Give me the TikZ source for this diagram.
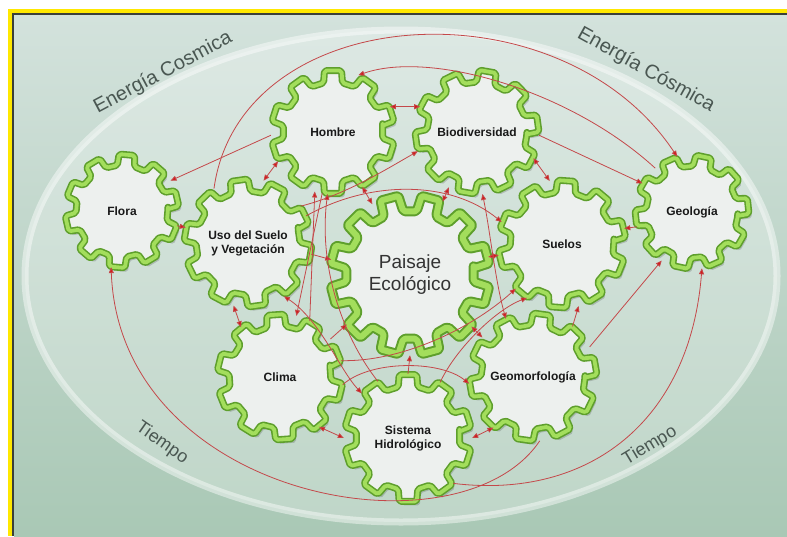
\documentclass[tikz,border=0pt]{standalone}
\usepackage{fontspec}
\setmainfont{Liberation Sans}
\usetikzlibrary{arrows.meta}
\definecolor{bgtop}{HTML}{D3E2DC}
\definecolor{bgbot}{HTML}{A9C8B5}
\definecolor{gearfill}{HTML}{EDF0EE}
\definecolor{geardark}{HTML}{5E9F2C}
\definecolor{gearlight}{HTML}{A3DE5C}
\definecolor{arrc}{HTML}{C4484A}
\definecolor{tipc}{HTML}{D21A1A}
\definecolor{txtgray}{HTML}{4A5752}
\definecolor{frameyellow}{HTML}{FFE800}
\definecolor{framedark}{HTML}{3A3F3A}

% gear path: rin, rout, teeth, rotation, style
\newcommand{\gp}[5]{\path[#5] ({#4-0.2*360/#3}:#1) \foreach \k in {1,...,#3}{ -- ({#4+(\k-1)*360/#3+0.2*360/#3}:#1) -- ({#4+(\k-1)*360/#3+0.28*360/#3}:#2) -- ({#4+(\k-1)*360/#3+0.72*360/#3}:#2) -- ({#4+(\k-1)*360/#3+0.8*360/#3}:#1)} -- cycle;}

% name, x, y, rin, rout, teeth, rotation, label
\newcommand{\gear}[8]{%
  \begin{scope}[shift={(#2,#3)}]
    \gp{#4}{#5}{#6}{#7}{gshadow}
    \gp{#4}{#5}{#6}{#7}{gouter}
    \gp{#4}{#5}{#6}{#7}{ginner}
  \end{scope}
  \node[gearnode, minimum size={2*#5}] (#1) at (#2,#3) {#8};}

\tikzset{
  gshadow/.style={fill=black, opacity=0.16, shift={(3,4)}, rounded corners=2pt},
  gouter/.style={fill=gearfill, draw=geardark, line width=7pt, rounded corners=2pt, line join=round},
  ginner/.style={draw=gearlight, line width=3.8pt, rounded corners=2pt, line join=round},
  bouter/.style={fill=gearfill, draw=geardark, line width=10pt, rounded corners=2pt, line join=round},
  binner/.style={draw=gearlight, line width=6pt, rounded corners=2pt, line join=round},
  gearnode/.style={circle, inner sep=0pt, align=center, text=black!90,
    font=\fontsize{12}{14}\selectfont\bfseries},
  energy/.style={text=txtgray, font=\fontsize{18}{20}\selectfont},
  arr/.style={draw=arrc, line width=0.8pt, -{Triangle[length=6pt,width=5pt,fill=tipc]}},
  darr/.style={draw=arrc, line width=0.8pt, {Triangle[length=6pt,width=5pt,fill=tipc]}-{Triangle[length=6pt,width=5pt,fill=tipc]}},
}

\begin{document}
\begin{tikzpicture}[x=1pt,y=-1pt]
\useasboundingbox (0,0) rectangle (787,536);
% frame and background
\fill[white] (0,0) rectangle (787,536);
\fill[frameyellow] (8,9) rectangle (787,536);
\fill[framedark] (12,13) rectangle (787,536);
\shade[top color=bgtop, bottom color=bgbot] (14,15) rectangle (787,536);
% ellipse
\fill[white, opacity=0.25] (401,276) ellipse (376 and 246);
\draw[white, opacity=0.45, line width=7pt] (401,276) ellipse (376 and 246);

% outer labels
\node[energy, font=\fontsize{20}{22}\selectfont, rotate=28] (e1) at (163,73) {Energía Cosmica};
\node[energy, font=\fontsize{20}{22}\selectfont, rotate=-29] (e2) at (646,70) {Energía Cósmica};
\node[energy, rotate=-35] (t1) at (162,443) {Tiempo};
\node[energy, rotate=31] (t2) at (650,446) {Tiempo};

% central gear
\begin{scope}[shift={(410,275)}]
  \gp{64}{80}{12}{0}{gshadow}
  \gp{64}{80}{12}{0}{bouter}
  \gp{64}{80}{12}{0}{binner}
\end{scope}
\node[gearnode, minimum size=160pt, font=\fontsize{19}{22}\selectfont, text=black!80] (paisaje) at (410,275) {Paisaje\\Ecológico};

% gears
\gear{hombre}{333}{132}{50}{62}{10}{0}{Hombre}
\gear{bio}{477}{132}{50}{62}{10}{10}{Biodiversidad}
\gear{flora}{122}{211}{46}{57}{10}{5}{Flora}
\gear{uso}{248}{243}{52}{64}{10}{-8}{Uso del Suelo\\y Vegetación}
\gear{suelos}{562}{244}{52}{64}{10}{4}{Suelos}
\gear{geo}{692}{212}{46}{57}{10}{12}{Geología}
\gear{clima}{280}{377}{51}{63}{10}{-4}{Clima}
\gear{sistema}{408}{438}{52}{64}{10}{0}{Sistema\\Hidrológico}
\gear{geomorf}{533}{377}{52}{64}{10}{8}{Geomorfología}

% short connectors
\draw[darr] (hombre.24) -- (bio.156);
\draw[arr] (flora.-15) -- (uso.166);
\draw[arr] (hombre.183) -- (flora.32);
\draw[darr] (uso.76) -- (hombre.208);
\draw[arr] (bio.-3) -- (geo.150);
\draw[darr] (bio.-25) -- (suelos.101);
\draw[arr] (geo.195) -- (suelos.14);
\draw[arr] (geomorf.52) -- (suelos.-75);
\draw[arr] (geomorf.28) -- (geo.238);
\draw[darr] (uso.-103) -- (clima.128);
\draw[darr] (clima.-52) -- (sistema.180);
\draw[darr] (sistema.0) -- (geomorf.232);
\draw[arr] (sistema.90) -- (paisaje.-90);
\draw[arr] (clima.37) -- (paisaje.218);
\draw[arr] (uso.-10) -- (paisaje.169);
\draw[darr] (hombre.-62) -- (paisaje.118);
\draw[darr] (bio.-117) -- (paisaje.66);
\draw[darr] (paisaje.13) -- (suelos.190);
\draw[darr] (paisaje.-40) -- (geomorf.142);

% long curves
\draw[arr] (uso.122) .. controls (240,0) and (560,-20) .. (geo.105);
\draw[arr] (geo.130) .. controls (570,90) and (430,50) .. (hombre.66);
\draw[arr] (sistema.-45) .. controls (590,500) and (690,420) .. (geo.-80);
\draw[arr] (geomorf.-84) .. controls (460,560) and (120,500) .. (flora.-101);

% inner network
\draw[arr] (uso.35) .. controls (345,195) and (385,170) .. (bio.198);
\draw[arr] (uso.25) .. controls (370,180) and (450,180) .. (suelos.160);
\draw[arr] (clima.62) -- (hombre.-107);
\draw[arr] (hombre.-100) -- (clima.75);
\draw[arr] (sistema.118) .. controls (345,340) and (318,270) .. (hombre.-95);
\draw[darr] (uso.-56) .. controls (320,320) and (340,370) .. (sistema.136);
\draw[arr] (clima.-7) .. controls (370,360) and (440,360) .. (geomorf.186);
\draw[arr] (clima.15) .. controls (400,362) and (470,330) .. (suelos.224);
\draw[arr] (sistema.60) .. controls (455,350) and (495,310) .. (suelos.237);
\draw[darr] (geomorf.115) .. controls (495,280) and (490,230) .. (bio.-85);
\end{tikzpicture}
\end{document}
